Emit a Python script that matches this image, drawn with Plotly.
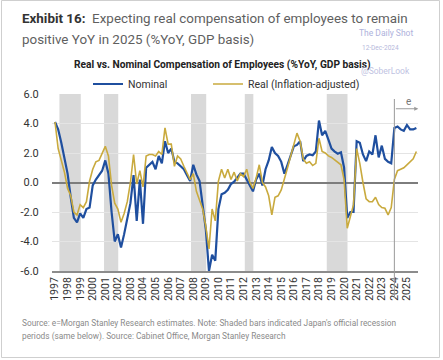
import plotly.graph_objects as go

# ---------------- data ----------------
years = list(range(1997, 2026))
quarters = [0.0, 0.25, 0.5, 0.75]

nominal = [
    4.1, 3.6, 2.7, 1.7,      # 1997
    0.6, -1.0, -2.4, -2.7,   # 1998
    -2.1, -2.4, -1.8, -1.7,  # 1999
    -0.2, 0.2, 0.5, 0.8,     # 2000
    1.5, 0.6, -2.0, -4.0,    # 2001
    -3.5, -4.4, -3.5, -2.5,  # 2002
    -1.4, 0.5, -2.6, 0.2,    # 2003
    -2.8, 1.0, 1.2, 1.4,     # 2004
    0.9, 1.8, 1.3, 2.8,      # 2005
    2.0, 2.3, 1.4, 1.3,      # 2006
    1.1, 0.9, 0.5, 0.1,      # 2007
    1.2, 0.55, 0.1, -1.6,    # 2008
    -3.2, -6.0, -4.9, -5.3,  # 2009
    -1.8, -0.8, -0.7, -0.5,  # 2010
    -0.1, 0.05, 0.3, 0.6,    # 2011
    0.6, 0.2, -0.3, -0.6,    # 2012
    0.2, 0.6, -0.2, 0.9,     # 2013
    1.5, 2.4, 2.0, 1.8,      # 2014
    1.4, 0.6, 1.2, 1.8,      # 2015
    2.45, 2.55, 2.8, 1.45,   # 2016
    1.8, 1.9, 1.85, 2.1,     # 2017
    4.2, 3.2, 3.5, 2.9,      # 2018
    2.3, 2.1, 1.95, 2.05,    # 2019
    1.0, -2.4, -2.0, -2.0,   # 2020
    2.8, 2.7, 1.9, 1.45,     # 2021
    2.1, 1.9, 3.2, 1.7,      # 2022
    2.5, 1.6, 1.4, 1.3,      # 2023
    3.7, 3.8, 3.6, 3.5,      # 2024
    3.9, 3.6, 3.6, 3.7,      # 2025
]

real = [
    4.1, 2.3, 1.5, 0.7,      # 1997
    -0.4, -0.9, -2.0, -2.2,  # 1998
    -1.5, -1.7, -1.3, 0.1,   # 1999
    0.9, 1.4, 1.5, 2.0,      # 2000
    2.45, 1.8, -0.2, -1.4,   # 2001
    -1.8, -2.7, -2.1, -1.3,  # 2002
    0.0, 1.9, -0.1, 0.8,     # 2003
    -0.3, 1.8, 1.9, 1.9,     # 2004
    1.8, 2.1, 1.9, 3.7,      # 2005
    2.6, 2.6, 1.1, 1.8,      # 2006
    1.6, 1.1, 0.6, 0.2,      # 2007
    0.6, -0.6, -1.2, -1.8,   # 2008
    -3.0, -4.5, -1.8, -2.6,  # 2009
    0.1, 0.9, 0.3, 0.9,      # 2010
    0.2, 0.7, 0.1, 0.6,      # 2011
    0.4, 0.9, 0.0, -0.4,     # 2012
    0.3, 1.2, 0.0, -0.3,     # 2013
    -0.9, -2.2, -1.0, -0.9,  # 2014
    -0.5, 0.2, 1.0, 1.8,     # 2015
    2.5, 3.35, 2.8, 1.6,     # 2016
    1.3, 1.4, 1.15, 1.3,     # 2017
    3.0, 2.1, 2.0, 1.8,      # 2018
    1.7, 1.55, 1.4, 1.2,     # 2019
    0.2, -3.1, -2.3, -1.5,   # 2020
    2.3, 1.3, 0.0, -1.1,     # 2021
    -1.3, -1.3, -1.0, -1.5,  # 2022
    -1.7, -1.75, -2.2, -1.7, # 2023
    0.2, 0.8, 0.9, 1.0,      # 2024
    1.2, 1.4, 1.6, 2.1,      # 2025
]

recession_start = [1997.35, 2000.9, 2007.82, 2012.1, 2018.62]
recession_end = [1999.05, 2002.03, 2009.03, 2012.78, 2020.27]
estimate_start = 2024.0

y_ticks = [6, 4, 2, 0, -2, -4, -6]
x_ticks = years

t = [y + q for y in years for q in quarters]

# ---------------- layout helpers ----------------
W, H = 443, 360
ML, MR, MT, MB = 52, 25, 94, 89
PW, PH = W - ML - MR, H - MT - MB


def px(xp):
    return (xp - ML) / PW


def py(yp):
    return (H - MB - yp) / PH


BLUE = "#1f4f9f"
GOLD = "#c9aa3e"
FONT = "Roboto"

fig = go.Figure()
fig.add_trace(go.Scatter(x=t, y=nominal, mode="lines", name="Nominal", legend="legend",
                         line=dict(color=BLUE, width=2.2)))
fig.add_trace(go.Scatter(x=t, y=real, mode="lines", name="Real (Inflation-adjusted)",
                         legend="legend2", line=dict(color=GOLD, width=1.6)))

shapes = []
for s, e in zip(recession_start, recession_end):
    shapes.append(dict(type="rect", xref="x", yref="paper", x0=s, x1=e, y0=0, y1=1,
                       fillcolor="#d9d9d9", line=dict(width=0), layer="below"))
# estimate divider
shapes.append(dict(type="line", xref="x", yref="paper", x0=estimate_start, x1=estimate_start,
                   y0=py(298), y1=py(99), line=dict(color="#9a9a9a", width=1)))
# outer frame
shapes.append(dict(type="rect", xref="paper", yref="paper", x0=px(1.5), x1=px(439.5),
                   y0=py(357.5), y1=py(0.5), line=dict(color="#cfcfcf", width=1)))

annotations = [
    dict(xref="paper", yref="paper", x=px(20), y=py(18), xanchor="left", yanchor="middle",
         showarrow=False,
         text="<b><span style='color:#333333'>Exhibit 16:</span></b>  Expecting real compensation of employees to remain",
         font=dict(family=FONT, size=13.4, color="#5f5f5f")),
    dict(xref="paper", yref="paper", x=px(20), y=py(40), xanchor="left", yanchor="middle",
         showarrow=False, text="positive YoY in 2025 (%YoY, GDP basis)",
         font=dict(family=FONT, size=13.4, color="#5f5f5f")),
    dict(xref="paper", yref="paper", x=px(222), y=py(65), xanchor="center", yanchor="middle",
         showarrow=False, text="<b>Real vs. Nominal Compensation of Employees (%YoY, GDP basis)</b>",
         font=dict(family=FONT, size=10.2, color="#222222")),
    dict(xref="paper", yref="paper", x=px(386), y=py(33), xanchor="center", yanchor="middle",
         showarrow=False, text="The Daily Shot",
         font=dict(family=FONT, size=8.5, color="#aeb2dc")),
    dict(xref="paper", yref="paper", x=px(380), y=py(48), xanchor="center", yanchor="middle",
         showarrow=False, text="12-Dec-2024",
         font=dict(family=FONT, size=6.5, color="#b5b8dc")),
    dict(xref="paper", yref="paper", x=px(385), y=py(71), xanchor="center", yanchor="middle",
         showarrow=False, text="@SoberLook",
         font=dict(family=FONT, size=8.5, color="#c0c3e2")),
    dict(xref="paper", yref="paper", x=px(20), y=py(323), xanchor="left", yanchor="middle",
         showarrow=False,
         text="Source: e=Morgan Stanley Research estimates. Note: Shaded bars indicated Japan's official recession",
         font=dict(family=FONT, size=8.3, color="#8a8a8a")),
    dict(xref="paper", yref="paper", x=px(20), y=py(336), xanchor="left", yanchor="middle",
         showarrow=False,
         text="periods (same below). Source: Cabinet Office, Morgan Stanley Research",
         font=dict(family=FONT, size=8.3, color="#8a8a8a")),
    # estimate arrow
    dict(xref="x", yref="y", x=2025.9, y=5.0, axref="x", ayref="y",
         ax=estimate_start, ay=5.0, showarrow=True, arrowhead=2, arrowsize=0.8,
         arrowwidth=1, arrowcolor="#9a9a9a", text=""),
    dict(xref="x", yref="y", x=2025.1, y=5.5, xanchor="center", yanchor="middle",
         showarrow=False, text="e", font=dict(family=FONT, size=10, color="#777777")),
]

legend_common = dict(orientation="h", yanchor="middle", y=py(84), xanchor="left",
                     font=dict(family=FONT, size=10.5, color="#333333"),
                     bgcolor="rgba(0,0,0,0)", itemclick=False, itemdoubleclick=False)

fig.update_layout(
    width=W, height=H,
    margin=dict(l=ML, r=MR, t=MT, b=MB, autoexpand=False),
    paper_bgcolor="white", plot_bgcolor="white",
    font=dict(family=FONT, color="#333333"),
    showlegend=True,
    legend=dict(x=px(88), **legend_common),
    legend2=dict(x=px(208), **legend_common),
    shapes=shapes,
    annotations=annotations,
    xaxis=dict(range=[1996.76, 2025.88], tickmode="array", tickvals=x_ticks,
               ticktext=[str(y) for y in x_ticks], tickangle=-90,
               tickfont=dict(family=FONT, size=10.5, color="#333333"),
               showgrid=False, zeroline=False, showline=True, linecolor="#8c8c8c",
               linewidth=2, ticks="", fixedrange=True),
    yaxis=dict(range=[-6, 6], tickmode="array", tickvals=y_ticks,
               ticktext=[f"{v:.1f}" for v in y_ticks],
               tickfont=dict(family=FONT, size=11, color="#333333"),
               showgrid=True, gridcolor="#e4e4e4", gridwidth=1,
               zeroline=True, zerolinecolor="#7d7d7d", zerolinewidth=1.5,
               ticks="outside", ticklen=10, tickcolor="rgba(0,0,0,0)", fixedrange=True),
)

fig.write_html("out.html", config={"displayModeBar": False},
               post_script="document.body.style.margin='0';")
